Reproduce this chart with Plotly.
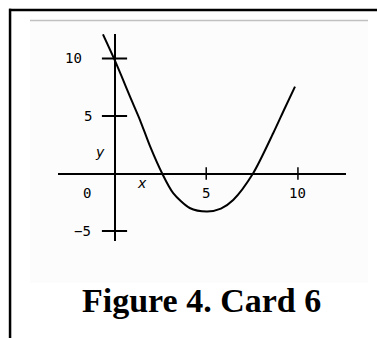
import plotly.graph_objects as go

W, H = 377, 338

# Curve
curve_x = [-0.63, 0.0, 0.4, 0.84, 1.39, 1.93, 2.6, 3.2, 4.1, 5.05, 5.8, 6.47, 7.55, 8.65, 9.29, 9.84]
curve_y = [12.1, 9.9, 8.4, 6.7, 4.65, 2.4, 0.0, -1.7, -3.0, -3.3, -3.05, -2.3, 0.0, 3.5, 5.7, 7.55]

# Axis extents
x_range = [-3.08, 12.62]
y_range = [-5.87, 12.13]

y_ticks = [10, 5, -5]
y_tick_labels = ["10", "5", "\u22125"]
x_ticks = [5, 10]
x_tick_labels = ["5", "10"]
origin_label = "0"
title_text = "Figure 4. Card 6"

def px_x(p):
    return p / W

def px_y(p):
    return (H - p) / H

fig = go.Figure()

fig.add_trace(go.Scatter(
    x=curve_x, y=curve_y, mode="lines",
    line=dict(color="black", width=2, shape="spline", smoothing=0.8),
    hoverinfo="skip", showlegend=False,
))

# crossing ticks on y axis
fig.add_trace(go.Scatter(
    x=[0] * len(y_ticks), y=y_ticks, mode="markers",
    marker=dict(symbol="line-ew", size=18, line=dict(color="black", width=2)),
    hoverinfo="skip", showlegend=False,
))
# crossing ticks on x axis
fig.add_trace(go.Scatter(
    x=x_ticks, y=[0] * len(x_ticks), mode="markers",
    marker=dict(symbol="line-ns", size=9, line=dict(color="black", width=1.5)),
    hoverinfo="skip", showlegend=False,
))

lab_font = dict(family="DejaVu Sans Mono", size=14, color="black")
ann = []
ylab_x = [-2.26, -1.44, -1.77]
for v, t, xx in zip(y_ticks, y_tick_labels, ylab_x):
    ann.append(dict(x=xx, y=v, xref="x", yref="y", text=t, showarrow=False,
                    font=lab_font, xanchor="center", yanchor="middle"))
for v, t in zip(x_ticks, x_tick_labels):
    ann.append(dict(x=v, y=-1.7, xref="x", yref="y", text=t, showarrow=False,
                    font=lab_font, xanchor="center", yanchor="middle"))
ann.append(dict(x=-1.5, y=-1.7, xref="x", yref="y", text=origin_label, showarrow=False,
                font=lab_font, xanchor="center", yanchor="middle"))
ann.append(dict(x=-0.8, y=1.87, xref="x", yref="y", text="<i>y</i>", showarrow=False,
                font=dict(family="DejaVu Sans", size=14, color="black"),
                xanchor="center", yanchor="middle"))
ann.append(dict(x=1.5, y=-0.8, xref="x", yref="y", text="<i>x</i>", showarrow=False,
                font=dict(family="DejaVu Sans", size=14, color="black"),
                xanchor="center", yanchor="middle"))
ann.append(dict(x=px_x(201), y=px_y(300), xref="paper", yref="paper", text="<b>" + title_text + "</b>",
                showarrow=False, font=dict(family="Liberation Serif", size=34, color="black"),
                xanchor="center", yanchor="middle"))

shapes = [
    dict(type="rect", xref="paper", yref="paper", x0=px_x(30), x1=px_x(368), y0=px_y(283), y1=px_y(21),
         fillcolor="#fcfcfc", line=dict(width=0), layer="below"),
    dict(type="rect", xref="paper", yref="paper", x0=px_x(30), x1=px_x(368), y0=px_y(21.2), y1=px_y(19.8),
         fillcolor="#c0c0c0", line=dict(width=0)),
    dict(type="rect", xref="paper", yref="paper", x0=px_x(9), x1=px_x(377), y0=px_y(11.3), y1=px_y(8.8),
         fillcolor="black", line=dict(width=0)),
    dict(type="rect", xref="paper", yref="paper", x0=px_x(8.8), x1=px_x(11.3), y0=px_y(338), y1=px_y(8.8),
         fillcolor="black", line=dict(width=0)),
]

fig.update_layout(
    width=W, height=H,
    margin=dict(l=0, r=0, t=0, b=0),
    paper_bgcolor="white", plot_bgcolor="rgba(0,0,0,0)",
    annotations=ann, shapes=shapes,
    xaxis=dict(range=x_range, domain=[58 / W, 346 / W], showgrid=False, showticklabels=False,
               ticks="", showline=False, zeroline=True, zerolinecolor="black", zerolinewidth=2,
               fixedrange=True),
    yaxis=dict(range=y_range, domain=[(H - 241) / H, (H - 34) / H], showgrid=False, showticklabels=False,
               ticks="", showline=False, zeroline=True, zerolinecolor="black", zerolinewidth=2,
               fixedrange=True),
)

fig.write_html(
    "out.html",
    config={"displayModeBar": False},
    post_script="document.body.style.margin='0';document.body.style.overflow='hidden';"
                "document.documentElement.style.overflow='hidden';",
)
